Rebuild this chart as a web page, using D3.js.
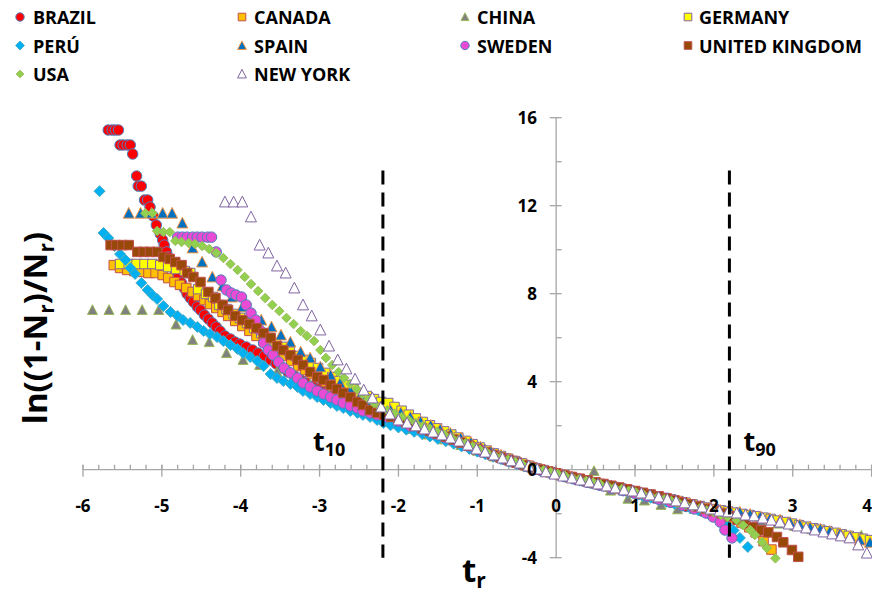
<!DOCTYPE html>
<html><head><meta charset="utf-8">
<script src="https://cdn.jsdelivr.net/npm/d3@7"></script>
<style>body{margin:0;background:#fff}svg{display:block}text{font-family:'Open Sans','Noto Sans',sans-serif;font-weight:700;fill:#000}</style>
</head><body><svg id="c" width="872" height="595"></svg>
<script>
// ---------- data (t_r, ln((1-Nr)/Nr)) ----------
const brazil = [[-5.68,15.44],[-5.63,15.44],[-5.59,15.44],[-5.55,15.44],[-5.53,14.76],[-5.49,14.76],[-5.44,14.76],[-5.40,14.76],[-5.37,14.35],[-5.32,13.35],[-5.30,12.89],[-5.26,12.89],[-5.22,12.26],[-5.18,12.26],[-5.15,11.94],[-5.11,11.53],[-5.07,11.12],[-5.02,10.71],[-4.99,10.44],[-4.97,10.21],[-4.94,9.90],[-4.92,9.67],[-4.89,9.44],[-4.87,9.26],[-4.83,9.03],[-4.79,8.76],[-4.75,8.49],[-4.71,8.21],[-4.68,7.99],[-4.64,7.80],[-4.60,7.62],[-4.55,7.40],[-4.51,7.26],[-4.46,7.03],[-4.41,6.85],[-4.36,6.67],[-4.31,6.49],[-4.26,6.30],[-4.20,6.08],[-4.13,5.94],[-4.07,5.80],[-4.01,5.71],[-3.93,5.58],[-3.85,5.44],[-3.78,5.30],[-3.70,5.17],[-3.62,4.99],[-3.55,4.81],[-3.47,4.62],[-3.40,4.44],[-3.32,4.26],[-3.24,4.08],[-3.17,3.94],[-3.09,3.80],[-3.02,3.67],[-2.94,3.53],[-2.86,3.40],[-2.79,3.26],[-2.71,3.17],[-2.64,3.03],[-2.56,2.94],[-2.48,2.80],[-2.41,2.71],[-2.33,2.58],[-2.26,2.49],[-2.15,2.40],[-2.05,2.26],[-1.95,2.10],[-1.85,1.95],[-1.75,1.83],[-1.65,1.72],[-1.55,1.60],[-1.45,1.48],[-1.35,1.36],[-1.25,1.23],[-1.15,1.10],[-1.05,0.95],[-0.95,0.82],[-0.85,0.70],[-0.75,0.58],[-0.65,0.46],[-0.55,0.35],[-0.45,0.24],[-0.35,0.13],[-0.25,0.03],[-0.15,-0.07],[-0.05,-0.16],[0.05,-0.25],[0.15,-0.34],[0.25,-0.43],[0.35,-0.52],[0.45,-0.61],[0.55,-0.69],[0.65,-0.77],[0.75,-0.86],[0.85,-0.94],[0.95,-1.03],[1.05,-1.11],[1.15,-1.20],[1.25,-1.29],[1.35,-1.38],[1.45,-1.47],[1.55,-1.57],[1.65,-1.67],[1.75,-1.77],[1.85,-1.88],[1.95,-2.00],[2.05,-2.15],[2.12,-2.35]];
const canada = [[-5.61,9.30],[-5.53,9.17],[-5.44,9.08],[-5.35,9.03],[-5.26,8.99],[-5.17,8.94],[-5.08,8.94],[-4.99,8.85],[-4.92,8.71],[-4.84,8.53],[-4.77,8.40],[-4.69,8.26],[-4.61,8.08],[-4.54,7.90],[-4.46,7.71],[-4.39,7.53],[-4.31,7.35],[-4.23,7.17],[-4.16,6.99],[-4.07,6.76],[-3.98,6.53],[-3.89,6.31],[-3.80,6.08],[-3.71,5.85],[-3.62,5.62],[-3.54,5.40],[-3.45,5.17],[-3.36,4.94],[-3.27,4.71],[-3.18,4.53],[-3.09,4.35],[-3.00,4.17],[-2.92,3.99],[-2.83,3.80],[-2.74,3.62],[-2.65,3.44],[-2.56,3.26],[-2.47,3.12],[-2.38,2.99],[-2.29,2.85],[-2.21,2.71],[-2.12,2.62],[-2.03,2.47],[-1.94,2.33],[-1.85,2.18],[-1.75,2.03],[-1.65,1.90],[-1.55,1.77],[-1.45,1.63],[-1.35,1.50],[-1.25,1.36],[-1.15,1.21],[-1.05,1.06],[-0.95,0.91],[-0.85,0.76],[-0.75,0.63],[-0.65,0.51],[-0.55,0.40],[-0.45,0.28],[-0.35,0.17],[-0.25,0.06],[-0.15,-0.04],[-0.05,-0.13],[0.05,-0.22],[0.15,-0.31],[0.25,-0.40],[0.35,-0.49],[0.45,-0.57],[0.55,-0.65],[0.65,-0.73],[0.75,-0.81],[0.85,-0.89],[0.95,-0.97],[1.05,-1.05],[1.15,-1.13],[1.25,-1.21],[1.35,-1.30],[1.45,-1.38],[1.55,-1.47],[1.65,-1.56],[1.75,-1.65],[1.85,-1.75],[1.95,-1.85],[2.05,-1.96],[2.15,-2.08],[2.25,-2.22],[2.35,-2.40],[2.45,-2.62],[2.53,-2.85],[2.63,-3.25],[2.73,-3.63]];
const china = [[-5.88,7.26],[-5.67,7.26],[-5.46,7.26],[-5.25,7.26],[-5.04,7.26],[-4.82,6.60],[-4.61,5.90],[-4.40,5.80],[-4.18,5.30],[-3.97,4.99],[-3.76,4.76],[-3.54,4.44],[-3.33,4.17],[-3.12,3.85],[-2.91,3.55],[-2.70,3.22],[-2.48,2.85],[-2.27,2.50],[-2.06,2.10],[-1.85,1.85],[-1.64,1.60],[-1.42,1.38],[-1.21,1.12],[-1.00,0.86],[-0.79,0.60],[-0.58,0.38],[-0.37,0.15],[-0.15,-0.05],[0.06,-0.25],[0.27,-0.40],[0.48,-0.06],[0.69,-0.95],[0.91,-1.32],[1.12,-1.40],[1.33,-1.60],[1.54,-1.80],[1.75,-1.78],[1.96,-1.95],[2.18,-2.10],[2.39,-2.25],[2.60,-2.35],[2.81,-2.45],[3.02,-2.55],[3.24,-2.70],[3.45,-2.80],[3.66,-2.95],[3.87,-3.00]];
const germany = [[-5.53,9.35],[-5.42,9.35],[-5.32,9.35],[-5.22,9.35],[-5.12,9.35],[-5.02,9.30],[-4.92,9.21],[-4.82,9.12],[-4.71,9.03],[-4.64,8.94],[-4.54,8.21],[-4.44,7.99],[-4.35,7.85],[-4.27,7.49],[-4.18,7.30],[-4.09,7.08],[-4.01,6.90],[-3.92,6.67],[-3.83,6.44],[-3.74,6.21],[-3.65,5.99],[-3.56,5.76],[-3.47,5.58],[-3.38,5.35],[-3.30,5.17],[-3.21,4.99],[-3.11,4.85],[-3.02,4.62],[-2.93,4.40],[-2.84,4.21],[-2.75,4.03],[-2.66,3.85],[-2.57,3.67],[-2.48,3.49],[-2.40,3.35],[-2.31,3.21],[-2.22,3.08],[-2.13,3.03],[-2.05,2.85],[-1.96,2.68],[-1.87,2.50],[-1.78,2.33],[-1.69,2.17],[-1.60,2.02],[-1.51,1.88],[-1.42,1.74],[-1.33,1.60],[-1.24,1.46],[-1.15,1.31],[-1.06,1.16],[-0.97,1.01],[-0.88,0.87],[-0.79,0.74],[-0.70,0.62],[-0.61,0.50],[-0.52,0.39],[-0.43,0.28],[-0.34,0.17],[-0.25,0.07],[-0.16,-0.02],[-0.07,-0.11],[0.02,-0.19],[0.11,-0.27],[0.20,-0.35],[0.29,-0.43],[0.38,-0.50],[0.47,-0.58],[0.56,-0.65],[0.65,-0.72],[0.74,-0.79],[0.83,-0.86],[0.92,-0.93],[1.01,-1.00],[1.10,-1.07],[1.19,-1.14],[1.28,-1.21],[1.37,-1.28],[1.46,-1.35],[1.55,-1.43],[1.64,-1.50],[1.73,-1.58],[1.82,-1.65],[1.91,-1.72],[2.00,-1.79],[2.09,-1.85],[2.18,-1.90],[2.27,-1.95],[2.36,-2.01],[2.45,-2.06],[2.54,-2.12],[2.63,-2.18],[2.72,-2.24],[2.81,-2.31],[2.90,-2.38],[2.99,-2.45],[3.08,-2.52],[3.17,-2.59],[3.26,-2.66],[3.35,-2.73],[3.44,-2.80],[3.53,-2.87],[3.62,-2.94],[3.71,-3.01],[3.80,-3.08],[3.89,-3.14],[3.98,-3.20]];
const peru = [[-5.79,12.66],[-5.74,10.76],[-5.68,10.53],[-5.60,10.17],[-5.53,9.80],[-5.46,9.53],[-5.40,9.17],[-5.34,8.90],[-5.26,8.49],[-5.18,8.17],[-5.12,7.94],[-5.06,7.76],[-4.98,7.44],[-4.89,7.17],[-4.80,6.99],[-4.73,6.80],[-4.64,6.67],[-4.55,6.49],[-4.47,6.31],[-4.39,6.17],[-4.30,6.03],[-4.22,5.85],[-4.13,5.67],[-4.04,5.49],[-3.97,5.30],[-3.88,5.12],[-3.79,4.94],[-3.71,4.71],[-3.62,4.35],[-3.54,4.17],[-3.46,4.03],[-3.37,3.90],[-3.28,3.76],[-3.21,3.58],[-3.12,3.44],[-3.03,3.30],[-2.95,3.17],[-2.86,3.03],[-2.78,2.90],[-2.70,2.80],[-2.61,2.67],[-2.52,2.58],[-2.45,2.49],[-2.36,2.40],[-2.27,2.26],[-2.19,2.12],[-2.10,2.02],[-2.00,1.92],[-1.90,1.82],[-1.80,1.72],[-1.70,1.62],[-1.60,1.51],[-1.50,1.40],[-1.40,1.29],[-1.30,1.18],[-1.20,1.06],[-1.10,0.94],[-1.00,0.82],[-0.90,0.70],[-0.80,0.59],[-0.70,0.48],[-0.60,0.37],[-0.50,0.26],[-0.40,0.15],[-0.30,0.05],[-0.20,-0.05],[-0.10,-0.14],[0.00,-0.23],[0.10,-0.32],[0.20,-0.41],[0.30,-0.50],[0.40,-0.58],[0.50,-0.67],[0.60,-0.75],[0.70,-0.84],[0.80,-0.92],[0.90,-1.01],[1.00,-1.10],[1.10,-1.19],[1.20,-1.28],[1.30,-1.37],[1.40,-1.46],[1.50,-1.55],[1.60,-1.64],[1.70,-1.74],[1.80,-1.84],[1.90,-1.94],[2.00,-2.08],[2.08,-2.29],[2.17,-2.52],[2.25,-2.76],[2.33,-3.10],[2.43,-3.51]];
const spain = [[-5.42,11.66],[-5.27,11.66],[-5.13,11.66],[-4.99,11.66],[-4.87,11.66],[-4.74,11.21],[-4.61,10.08],[-4.49,9.44],[-4.36,8.76],[-4.23,8.35],[-4.11,7.85],[-3.98,7.40],[-3.87,7.08],[-3.74,6.80],[-3.61,6.49],[-3.49,6.12],[-3.37,5.80],[-3.24,5.35],[-3.12,5.08],[-2.99,4.67],[-2.86,4.30],[-2.74,3.94],[-2.61,3.62],[-2.48,3.40],[-2.36,3.08],[-2.23,2.85],[-2.10,2.71],[-1.97,2.60],[-1.85,2.40],[-1.72,2.20],[-1.59,2.02],[-1.47,1.84],[-1.34,1.65],[-1.21,1.45],[-1.08,1.24],[-0.96,1.03],[-0.83,0.84],[-0.70,0.66],[-0.58,0.49],[-0.45,0.32],[-0.32,0.16],[-0.20,0.02],[-0.07,-0.11],[0.06,-0.23],[0.18,-0.34],[0.31,-0.45],[0.44,-0.56],[0.56,-0.66],[0.69,-0.76],[0.82,-0.86],[0.94,-0.96],[1.07,-1.06],[1.20,-1.16],[1.32,-1.25],[1.45,-1.35],[1.58,-1.45],[1.70,-1.55],[1.83,-1.65],[1.96,-1.75],[2.08,-1.84],[2.21,-1.88],[2.33,-1.93],[2.46,-2.03],[2.59,-2.14],[2.71,-2.22],[2.84,-2.29],[2.97,-2.40],[3.09,-2.50],[3.22,-2.61],[3.35,-2.70],[3.47,-2.80],[3.60,-2.90],[3.73,-3.02],[3.85,-3.20],[3.98,-3.30]];
const sweden = [[-4.80,10.57],[-4.74,10.57],[-4.68,10.57],[-4.61,10.57],[-4.55,10.57],[-4.49,10.57],[-4.42,10.57],[-4.37,10.57],[-4.31,9.90],[-4.25,8.62],[-4.18,8.17],[-4.12,8.03],[-4.06,7.94],[-3.99,7.85],[-3.93,7.49],[-3.87,7.12],[-3.81,6.80],[-3.76,6.35],[-3.71,5.76],[-3.65,5.44],[-3.59,5.21],[-3.52,4.90],[-3.45,4.62],[-3.37,4.40],[-3.28,4.17],[-3.21,3.94],[-3.12,3.76],[-3.03,3.58],[-2.95,3.44],[-2.86,3.30],[-2.78,3.17],[-2.70,3.03],[-2.61,2.90],[-2.52,2.80],[-2.45,2.67],[-2.36,2.58],[-2.27,2.49],[-2.15,2.40],[-2.00,2.20],[-1.85,1.98],[-1.70,1.82],[-1.55,1.64],[-1.40,1.46],[-1.25,1.28],[-1.10,1.07],[-0.95,0.86],[-0.80,0.66],[-0.65,0.48],[-0.50,0.31],[-0.35,0.14],[-0.20,-0.02],[-0.05,-0.16],[0.10,-0.30],[0.25,-0.44],[0.40,-0.57],[0.55,-0.70],[0.70,-0.83],[0.85,-0.95],[1.00,-1.08],[1.15,-1.21],[1.30,-1.34],[1.45,-1.48],[1.60,-1.62],[1.75,-1.78],[1.90,-1.97],[1.99,-2.15],[2.08,-2.38],[2.14,-2.74],[2.23,-3.10]];
const uk = [[-5.65,10.21],[-5.58,10.21],[-5.50,10.21],[-5.42,10.21],[-5.31,9.90],[-5.23,9.90],[-5.15,9.90],[-5.06,9.90],[-4.98,9.67],[-4.90,9.58],[-4.83,9.44],[-4.75,9.30],[-4.68,8.94],[-4.60,8.76],[-4.51,8.53],[-4.41,8.08],[-4.32,7.80],[-4.23,7.49],[-4.16,7.26],[-4.07,6.99],[-3.98,6.80],[-3.89,6.62],[-3.80,6.44],[-3.71,6.21],[-3.62,5.99],[-3.54,5.62],[-3.46,5.44],[-3.37,5.21],[-3.28,4.99],[-3.21,4.76],[-3.12,4.44],[-3.03,4.21],[-2.95,4.08],[-2.86,3.85],[-2.78,3.67],[-2.70,3.49],[-2.61,3.30],[-2.52,3.08],[-2.45,2.94],[-2.36,2.71],[-2.27,2.58],[-2.18,2.50],[-2.09,2.40],[-2.00,2.28],[-1.90,2.14],[-1.80,2.00],[-1.70,1.88],[-1.60,1.76],[-1.50,1.63],[-1.40,1.50],[-1.30,1.37],[-1.20,1.23],[-1.10,1.09],[-1.00,0.94],[-0.90,0.80],[-0.80,0.67],[-0.70,0.55],[-0.60,0.44],[-0.50,0.32],[-0.40,0.21],[-0.30,0.10],[-0.20,0.01],[-0.10,-0.08],[0.00,-0.16],[0.10,-0.25],[0.20,-0.33],[0.30,-0.41],[0.40,-0.49],[0.50,-0.57],[0.60,-0.65],[0.70,-0.73],[0.80,-0.81],[0.90,-0.89],[1.00,-0.97],[1.10,-1.05],[1.20,-1.13],[1.30,-1.21],[1.40,-1.30],[1.50,-1.39],[1.60,-1.48],[1.70,-1.57],[1.80,-1.67],[1.90,-1.77],[2.00,-1.88],[2.10,-1.99],[2.20,-2.12],[2.30,-2.28],[2.40,-2.45],[2.50,-2.62],[2.60,-2.76],[2.69,-2.85],[2.80,-3.06],[2.88,-3.30],[2.99,-3.65],[3.07,-3.96]];
const usa = [[-5.21,11.66],[-5.12,11.66],[-5.06,10.85],[-4.98,10.80],[-4.90,10.80],[-4.83,10.40],[-4.75,10.35],[-4.66,10.30],[-4.58,10.26],[-4.49,10.17],[-4.40,10.03],[-4.31,9.85],[-4.22,9.62],[-4.13,9.35],[-4.04,9.08],[-3.95,8.76],[-3.87,8.44],[-3.78,8.12],[-3.69,7.80],[-3.60,7.49],[-3.51,7.21],[-3.42,6.90],[-3.33,6.62],[-3.24,6.30],[-3.16,6.08],[-3.07,5.85],[-2.99,5.44],[-2.92,5.08],[-2.84,4.76],[-2.76,4.44],[-2.69,4.17],[-2.61,3.90],[-2.53,3.67],[-2.46,3.44],[-2.38,3.21],[-2.31,3.03],[-2.23,2.85],[-2.14,2.70],[-2.05,2.55],[-1.96,2.40],[-1.87,2.26],[-1.78,2.12],[-1.69,1.99],[-1.60,1.86],[-1.51,1.73],[-1.42,1.60],[-1.33,1.47],[-1.24,1.34],[-1.15,1.20],[-1.06,1.06],[-0.97,0.92],[-0.88,0.79],[-0.79,0.67],[-0.70,0.56],[-0.61,0.45],[-0.52,0.35],[-0.43,0.25],[-0.34,0.15],[-0.25,0.06],[-0.16,-0.03],[-0.07,-0.11],[0.02,-0.19],[0.11,-0.27],[0.20,-0.35],[0.29,-0.43],[0.38,-0.51],[0.47,-0.58],[0.56,-0.66],[0.65,-0.73],[0.74,-0.81],[0.83,-0.88],[0.92,-0.96],[1.01,-1.03],[1.10,-1.11],[1.19,-1.18],[1.28,-1.26],[1.37,-1.34],[1.46,-1.42],[1.55,-1.50],[1.64,-1.58],[1.73,-1.67],[1.82,-1.76],[1.91,-1.85],[2.00,-1.95],[2.09,-2.06],[2.17,-2.15],[2.29,-2.29],[2.37,-2.52],[2.46,-2.74],[2.52,-2.97],[2.61,-3.29],[2.67,-3.56],[2.78,-4.03]];
const newYork = [[-4.20,12.17],[-4.09,12.17],[-3.98,12.17],[-3.87,11.49],[-3.76,10.21],[-3.65,9.85],[-3.54,9.26],[-3.43,8.94],[-3.32,8.26],[-3.21,7.49],[-3.10,6.99],[-2.99,6.35],[-2.88,5.62],[-2.77,4.99],[-2.66,4.58],[-2.55,4.12],[-2.44,3.62],[-2.33,3.26],[-2.22,2.85],[-2.11,2.53],[-2.00,2.26],[-1.89,2.12],[-1.78,1.99],[-1.67,1.85],[-1.56,1.71],[-1.45,1.58],[-1.34,1.44],[-1.23,1.30],[-1.12,1.12],[-1.01,0.94],[-0.90,0.80],[-0.79,0.67],[-0.68,0.53],[-0.57,0.40],[-0.46,0.30],[-0.35,0.17],[-0.24,0.03],[-0.13,-0.10],[-0.02,-0.20],[0.09,-0.29],[0.20,-0.38],[0.31,-0.47],[0.42,-0.56],[0.53,-0.65],[0.64,-0.74],[0.75,-0.83],[0.86,-0.92],[0.97,-0.97],[1.08,-1.06],[1.19,-1.15],[1.30,-1.24],[1.41,-1.33],[1.52,-1.42],[1.63,-1.51],[1.74,-1.60],[1.85,-1.70],[1.96,-1.79],[2.07,-1.88],[2.18,-1.92],[2.29,-1.97],[2.40,-2.06],[2.51,-2.10],[2.62,-2.20],[2.73,-2.29],[2.84,-2.38],[2.95,-2.47],[3.06,-2.56],[3.17,-2.65],[3.28,-2.74],[3.39,-2.83],[3.50,-2.92],[3.61,-3.01],[3.72,-3.10],[3.83,-3.42],[3.94,-3.79]];

const seriesNames = ['BRAZIL','CANADA','CHINA','GERMANY','PERÚ','SPAIN','SWEDEN','UNITED KINGDOM','USA','NEW YORK'];
const xTickValues = [-6,-5,-4,-3,-2,-1,0,1,2,3,4];
const yTickValues = [-4,0,4,8,12,16];
const yMinorValues = [-2,2,6,10,14];
const thresholds = [{t:-2.197,label:'10'},{t:2.197,label:'90'}];

// ---------- styling ----------
const styles = [
  {shape:'circle',  fill:'#FF0000', stroke:'#4F81BD', w:10.5},
  {shape:'square',  fill:'#FFC000', stroke:'#C0504D', w:9.5},
  {shape:'triangle',fill:'#808080', stroke:'#9BBB59', w:10},
  {shape:'square',  fill:'#FFFF00', stroke:'#8064A2', w:9.5},
  {shape:'diamond', fill:'#00B0F0', stroke:'#4BACC6', w:11},
  {shape:'triangle',fill:'#0070C0', stroke:'#F79646', w:11},
  {shape:'circle',  fill:'#EA4BD4', stroke:'#4F81BD', w:10.5},
  {shape:'square',  fill:'#984807', stroke:'#C0504D', w:9.5},
  {shape:'diamond', fill:'#92D050', stroke:'#9BBB59', w:9.5},
  {shape:'triangle',fill:'#FFFFFF', stroke:'#8064A2', w:11}
];
const allData = [brazil, canada, china, germany, peru, spain, sweden, uk, usa, newYork];

function markerPath(shape, w){
  const h = w/2;
  switch(shape){
    case 'circle': return `M${-h},0a${h},${h} 0 1,0 ${w},0a${h},${h} 0 1,0 ${-w},0Z`;
    case 'square': return `M${-h},${-h}h${w}v${w}h${-w}Z`;
    case 'diamond': return `M0,${-h}L${h},0L0,${h}L${-h},0Z`;
    case 'triangle': return `M0,${-h*1.05}L${h},${h*0.9}L${-h},${h*0.9}Z`;
  }
}

const svg = d3.select('#c');
const x = d3.scaleLinear().domain([-6,4]).range([83,871.6]);
const y = d3.scaleLinear().domain([-4,16]).range([557.7,117.7]);
const axisColor = '#A6A6A6';

// axes lines + ticks
const ax = svg.append('g').attr('stroke',axisColor).attr('stroke-width',1.3);
ax.append('line').attr('x1',x(-6)).attr('x2',872).attr('y1',y(0)).attr('y2',y(0));
ax.append('line').attr('x1',x(0)).attr('x2',x(0)).attr('y1',y(16)).attr('y2',y(-4));
const xMinor = d3.range(-6,4.001,0.2).map(v=>+v.toFixed(1));
ax.selectAll('.xm').data(xMinor).join('line')
  .attr('x1',d=>x(d)).attr('x2',d=>x(d)).attr('y1',y(0)-5).attr('y2',y(0));
ax.selectAll('.xM').data(xTickValues).join('line')
  .attr('x1',d=>x(d)).attr('x2',d=>x(d)).attr('y1',y(0)-5).attr('y2',y(0)+7);
ax.selectAll('.yM').data(yTickValues).join('line')
  .attr('y1',d=>y(d)).attr('y2',d=>y(d)).attr('x1',x(0)-6.5).attr('x2',x(0)+5.5);
ax.selectAll('.ym').data(yMinorValues).join('line')
  .attr('y1',d=>y(d)).attr('y2',d=>y(d)).attr('x1',x(0)).attr('x2',x(0)+5.5);

// data
allData.forEach((data,i)=>{
  const s = styles[i];
  svg.append('g').selectAll('path').data(data).join('path')
    .attr('transform',d=>`translate(${x(d[0])},${y(d[1])})`)
    .attr('d',markerPath(s.shape,s.w))
    .attr('fill',s.fill).attr('stroke',s.stroke).attr('stroke-width',1);
});

// threshold dashed lines
thresholds.forEach(th=>{
  svg.append('line').attr('x1',x(th.t)).attr('x2',x(th.t))
    .attr('y1',y(13.6)).attr('y2',y(-4))
    .attr('stroke','#000').attr('stroke-width',3).attr('stroke-dasharray','14,8');
});
const t10 = svg.append('text').attr('x',x(-2.197)-70).attr('y',451).style('font-size','27px');
t10.append('tspan').text('t');
t10.append('tspan').attr('dy',5).style('font-size','18px').text(thresholds[0].label);
const t90 = svg.append('text').attr('x',x(2.197)+14).attr('y',451).style('font-size','27px');
t90.append('tspan').text('t');
t90.append('tspan').attr('dy',5).style('font-size','18px').text(thresholds[1].label);

// tick labels
svg.append('g').selectAll('text').data(xTickValues).join('text')
  .attr('x',d=>d===4 ? 872 : x(d)).attr('y',512)
  .attr('text-anchor',d=>d===4 ? 'end' : 'middle').style('font-size','17px')
  .text(d=>d);
svg.append('g').selectAll('text').data(yTickValues).join('text')
  .attr('x',537).attr('y',d=>y(d)+6).attr('text-anchor','end').style('font-size','17px')
  .text(d=>d);

// axis titles
const yt = svg.append('text').attr('transform','translate(47,328) rotate(-90)')
  .attr('text-anchor','middle').style('font-size','33px');
yt.append('tspan').text('ln((1-N');
yt.append('tspan').attr('dy',7).style('font-size','21px').text('r');
yt.append('tspan').attr('dy',-7).text(')/N');
yt.append('tspan').attr('dy',7).style('font-size','21px').text('r');
yt.append('tspan').attr('dy',-7).text(')');
const xt = svg.append('text').attr('x',462).attr('y',582).style('font-size','33px');
xt.append('tspan').text('t');
xt.append('tspan').attr('dy',6).style('font-size','21px').text('r');

// legend
const legX = [20,242,465,688], legTX = [33,254,477,699], legY = [17,45.5,74];
seriesNames.forEach((n,i)=>{
  const c = i%4, r = Math.floor(i/4), s = styles[i];
  svg.append('path').attr('transform',`translate(${legX[c]},${legY[r]})`)
    .attr('d',markerPath(s.shape, s.w*0.8)).attr('fill',s.fill).attr('stroke',s.stroke).attr('stroke-width',1);
  svg.append('text').attr('x',legTX[c]).attr('y',legY[r]+7).style('font-size','18px').text(n);
});
</script></body></html>
